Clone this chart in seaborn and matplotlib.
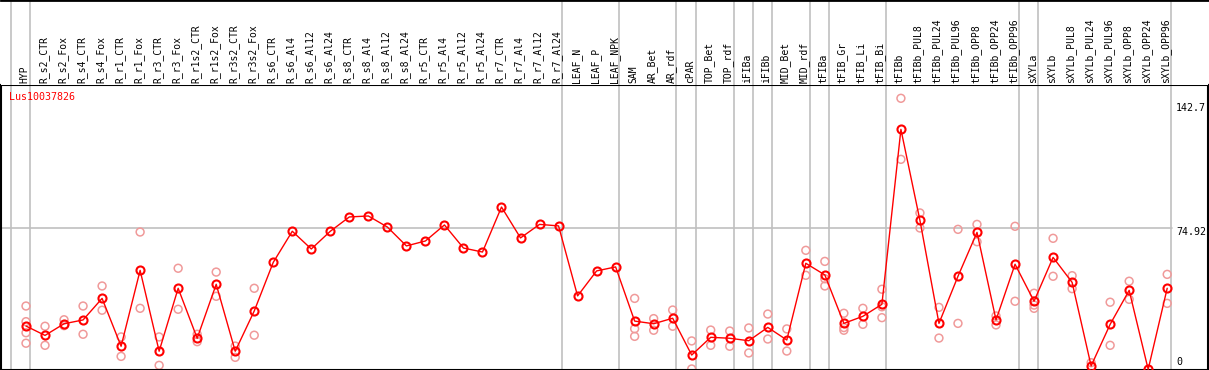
import matplotlib
matplotlib.use("Agg")
import matplotlib.pyplot as plt
import matplotlib.transforms as mtransforms
import numpy as np
import pandas as pd
import seaborn as sns

# ---------------- data ----------------
CATEGORIES = [
    "HYP", "R_s2_CTR", "R_s2_Fox", "R_s4_CTR", "R_s4_Fox", "R_r1_CTR", "R_r1_Fox",
    "R_r3_CTR", "R_r3_Fox", "R_r1s2_CTR", "R_r1s2_Fox", "R_r3s2_CTR", "R_r3s2_Fox",
    "R_s6_CTR", "R_s6_Al4", "R_s6_Al12", "R_s6_Al24", "R_s8_CTR", "R_s8_Al4",
    "R_s8_Al12", "R_s8_Al24", "R_r5_CTR", "R_r5_Al4", "R_r5_Al12", "R_r5_Al24",
    "R_r7_CTR", "R_r7_Al4", "R_r7_Al12", "R_r7_Al24", "LEAF_N", "LEAF_P", "LEAF_NPK",
    "SAM", "AR_Bet", "AR_rdf", "cPAR", "TOP_Bet", "TOP_rdf", "iFIBa", "iFIBb",
    "MID_Bet", "MID_rdf", "tFIBa", "tFIB_Gr", "tFIB_Li", "tFIB_Bi", "tFIBb",
    "tFIBb_PUL8", "tFIBb_PUL24", "tFIBb_PUL96", "tFIBb_OPP8", "tFIBb_OPP24",
    "tFIBb_OPP96", "sXYLa", "sXYLb", "sXYLb_PUL8", "sXYLb_PUL24", "sXYLb_PUL96",
    "sXYLb_OPP8", "sXYLb_OPP24", "sXYLb_OPP96",
]

MEANS = [
    23.3, 18.4, 24.5, 26.5, 37.8, 12.7, 52.5, 10.1, 43.1, 16.9, 45.2, 10.1, 31.2,
    56.7, 73.0, 63.7, 73.0, 80.5, 81.0, 75.2, 65.3, 67.9, 76.3, 64.2, 62.1,
    85.7, 69.5, 76.6, 75.8, 39.1, 52.2, 54.3,
    25.9, 24.5, 27.4, 8.1, 17.4, 16.9, 15.6, 22.6, 16.0, 56.2, 50.1, 24.7, 28.4, 34.7,
    126.4, 78.7, 24.7, 49.4, 72.4, 26.5, 55.7, 36.3, 59.3, 46.2, 2.4, 24.2, 42.0, 0.6, 43.1,
]

REPLICATES = [
    [33.8, 25.6, 19.8, 14.3], [23.2, 13.2], [26.6, 23.5], [33.8, 19.0], [44.3, 31.6],
    [17.6, 7.4], [72.6, 32.6], [17.6, 2.7], [53.6, 32.1], [19.0, 15.1], [51.6, 38.9],
    [12.8, 6.9], [43.1, 18.5],
    [], [], [], [], [], [], [], [], [], [], [], [], [], [], [], [], [], [], [],
    [37.8, 21.9, 17.9], [27.2, 21.1], [31.7, 23.2], [15.5, 0.8], [21.2, 13.2],
    [20.7, 12.7], [22.3, 9.2], [29.6, 16.5], [21.8, 10.2], [63.0, 49.9],
    [57.2, 48.1, 44.3], [30.0, 22.5, 21.1], [32.6, 24.2], [42.6, 33.4, 27.7],
    [142.7, 110.7], [82.6, 74.7], [33.1, 17.0], [74.0, 24.7], [76.6, 67.5],
    [28.6, 23.9], [75.6, 36.3], [40.5, 34.3, 32.6], [69.3, 49.4], [49.7, 42.9],
    [4.1], [35.8, 13.2], [46.8, 37.3], [], [50.4, 35.2],
]

# separators are drawn after these categories (None = before the first one)
GROUP_ENDS = [None, "HYP", "R_r7_Al24", "LEAF_NPK", "AR_rdf", "cPAR", "TOP_rdf",
              "iFIBa", "iFIBb", "MID_rdf", "tFIBa", "tFIB_Bi", "tFIBb_OPP96",
              "sXYLa", "sXYLb_OPP96"]

TITLE = "Lus10037826"
Y_LABELS = [142.7, 74.92, 0]
Y_LABEL_TEXT = ["142.7", "74.92", "0"]

# ---------------- figure ----------------
sns.set_style("white")
plt.rcParams["font.family"] = ["DejaVu Sans Mono", "DejaVu Sans"]

W, H = 1209, 370
fig = plt.figure(figsize=(W / 100, H / 100), dpi=100)

def frac_box(x0, y0, x1, y1):
    return [x0 / W, 1 - y1 / H, (x1 - x0) / W, (y1 - y0) / H]

ax = fig.add_axes(frac_box(1, 85, 1208, 370))
hax = fig.add_axes(frac_box(1, 0, 1208, 85))

idx = np.arange(len(CATEGORIES))
xlim = ((1 - 26) / 19.02, (1208 - 26) / 19.02)
ylim = (0.26, 149.67)

df_mean = pd.DataFrame({"x": idx, "y": MEANS})
rx, ry = [], []
for i, reps in enumerate(REPLICATES):
    for v in reps:
        rx.append(i)
        ry.append(v)
df_rep = pd.DataFrame({"x": rx, "y": ry})

grid_c = "#c0c0c0"
red = "#ff0000"
pink = "#f09a9a"

# separators
sep_pos = [(-1 if g is None else CATEGORIES.index(g)) + 0.2 for g in GROUP_ENDS]
for a in (ax, hax):
    for p in sep_pos:
        a.axvline(p, color=grid_c, lw=1.2, zorder=0)
ax.axhline(74.92, xmax=(1172 - 1) / 1207, color=grid_c, lw=1.2, zorder=0)

sns.scatterplot(data=df_rep, x="x", y="y", ax=ax, marker="o", s=32,
                color=pink, facecolor="none", edgecolor=pink, linewidth=1.1,
                zorder=2, legend=False, clip_on=False)
sns.lineplot(data=df_mean, x="x", y="y", ax=ax, color=red, linewidth=1.0,
             marker="o", markersize=5.8, markerfacecolor="none",
             markeredgecolor=red, markeredgewidth=1.5, zorder=3, sort=False)

ax.set_xlim(*xlim)
ax.set_ylim(*ylim)
ax.set_xticks([])
ax.set_yticks([])
ax.set_xlabel("")
ax.set_ylabel("")
for side in ["left", "right", "bottom", "top"]:
    ax.spines[side].set_visible(True)
    ax.spines[side].set_color("black")
    ax.spines[side].set_linewidth(1.5)

# right-side value labels (left-aligned in the margin)
label_x = (1176 - 1) / 1207
offsets = [-10, -4, 8]
for v, t, dy in zip(Y_LABELS, Y_LABEL_TEXT, offsets):
    ax.annotate(t, xy=(label_x, v), xycoords=("axes fraction", "data"),
                xytext=(0, dy), textcoords="offset pixels",
                ha="left", va="center", fontsize=7.2, color="black")

ax.text(9 / W, 1 - 96.5 / H, TITLE, transform=fig.transFigure,
        ha="left", va="center", fontsize=7.2, color=red)

# header
hax.set_xlim(*xlim)
hax.set_ylim(0, 1)
hax.set_xticks([])
hax.set_yticks([])
for side in ["left", "right", "bottom"]:
    hax.spines[side].set_visible(False)
hax.spines["top"].set_visible(True)
hax.spines["top"].set_color("black")
hax.spines["top"].set_linewidth(2)
trans = mtransforms.blended_transform_factory(hax.transData, hax.transAxes)
for i, c in enumerate(CATEGORIES):
    hax.text(i - 0.08, 2 / 85, c, transform=trans, rotation=90,
             ha="center", va="bottom", fontsize=7, color="black")

fig.savefig("out.png", dpi=100)
